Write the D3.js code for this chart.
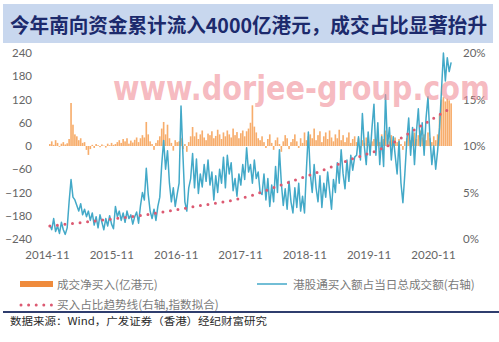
<!DOCTYPE html>
<html><head><meta charset="utf-8">
<script src="https://cdn.jsdelivr.net/npm/d3@7"></script>
<style>
html,body{margin:0;padding:0;background:#fff;}
svg{display:block;}
</style></head><body>
<svg id="chart" width="499" height="342"></svg>
<script>
// ---- chart data ----
const titleText = "今年南向资金累计流入4000亿港元，成交占比显著抬升";
const leftTicks = [-240, -180, -120, -60, 0, 60, 120, 180, 240];
const rightTicks = [0, 0.05, 0.10, 0.15, 0.20];
const xTickDates = ["2014-11-01", "2015-11-01", "2016-11-01", "2017-11-01", "2018-11-01", "2019-11-01", "2020-11-01"];
const seriesStart = "2014-11-17";
const seriesEnd = "2021-02-12";

// net southbound purchases (亿港元), evenly sampled over the period
const netBuy = [
  5, 12, 3, 15, 8, -2, 6, 10, 4, 7,
  18, 111, 55, 30,
  25, 15, 20, 8, 10, -10, -23, -8,
  3, -5, 5, 2, -3, 4, 1, -4, 6, 2, 8, 3, 5,
  10, 15, 8, 18, 12, 20, 6, 14, 9, 16, 22, 10,
  20, 28, 22, 62, 30, 12,
  5, -10, 8, 15, 25,
  45, 62, 30, 55,
  20, 8, -12, 15, 10,
  12, 20, -8, 5, -15,
  10, 25,
  49, 25, 35, 18, 30, 40, 22, 15, 32, 28, 38, 20, 26, 42, 30, 18, 35, 25, 40, 30, 22, 45, 28, 36, 20, 33, 40, 25, 38, 45,
  60, 105, 50, 35, 20, 15,
  25, 10, -5, 18, 30, 8, -10, 15, 22, 5, -15, 12, 28, 20, -8, 10, 18, 30, 12, -5, 20, 8, 35, 15, 25,
  30, 20, 45, 15, 28, 38, 10, 25, 35, 18, 40, 22, 12, 30, 20, 42, 15, 28, 10, 22, 35, 8, 18, 25,
  10, 20, -5, 15, 8, 22, 5, -8, 12, 18,
  15, 25, 10, 30, 18, 40, 20, 12, 28, 15, 22, 10, 18,
  5, -10, 12,
  20, 30, 15, 25, 35, 18, 28, 40, 22, 30, 15, 35,
  20, 10, 25, 15, 30, 80,
  120, 126, 115, 122, 118, 110
];

// southbound buying as % of the day's total turnover
const shareOfTurnover = [
  1.5, 1.0, 2.2, 0.8, 1.4, 0.6, 1.8, 1.0, 0.5, 1.2,
  4.0, 6.4, 4.5,
  4.2, 3.6, 3.0, 3.8, 2.6, 3.2, 2.4, 3.0,
  2.0, 2.8, 1.5, 2.4, 1.2, 2.6, 1.8, 1.0, 2.2, 1.4, 2.5, 1.6, 1.1,
  3.5, 2.4, 3.0, 2.0, 2.8, 1.8, 3.0, 2.2, 2.6, 1.6, 2.4, 2.9, 1.7,
  3.6, 5.0, 4.2, 7.6, 4.8, 3.0,
  2.2, 3.2, 2.0, 3.5, 4.5,
  8.0, 10.6, 7.5, 9.5,
  6.0, 4.0, 5.5, 3.5, 4.8,
  6.0, 14.3, 9.0, 4.0,
  3.0, 5.5,
  6.5, 9.2, 5.5, 8.6, 4.9, 7.0, 5.6, 8.0, 6.2, 8.5, 5.8, 7.2, 4.2, 6.8, 5.0, 7.5, 6.0, 8.8, 5.5, 9.0, 7.0, 8.2, 5.2, 6.5, 4.6, 7.0, 5.8, 8.0, 6.4, 9.8, 7.2,
  8.0, 6.0, 8.5, 6.5, 7.2, 5.0,
  4.8, 7.0, 4.2, 6.5, 3.5, 5.8, 4.0, 7.8, 5.0, 9.6, 6.0, 3.6, 5.4, 3.2, 6.2, 4.0, 2.8, 5.5, 3.4, 6.0, 3.0, 4.6, 2.8, 7.5, 11.5,
  7.0, 5.0, 8.0, 5.5, 4.0, 6.8, 3.4, 6.0, 4.5, 7.2, 5.2, 3.2, 6.4, 5.0, 8.2, 6.0, 9.6, 7.0, 5.4, 8.5, 6.2, 9.0, 7.4, 8.8,
  9.0, 11.0, 8.5, 13.5, 10.0, 8.0, 11.5, 9.0, 12.0, 14.5,
  9.0, 12.5, 8.0, 11.0, 7.8, 15.5, 10.0, 12.0, 8.5, 11.0, 9.0, 7.0, 10.5,
  6.0, 3.9, 7.0,
  10.5, 13.0, 9.0, 12.0, 8.0, 11.5, 14.0, 10.0, 12.5, 9.0, 13.0, 15.3,
  11.0, 8.0, 10.0, 7.5, 9.5, 12.0,
  16.0, 20.0, 17.0, 19.5, 18.0, 19.0
];

// exponential trend of the share (%)
const trendDates = ["2014-11-17", "2015-07-15", "2016-06-15", "2017-01-20", "2018-01-10", "2018-06-20", "2019-01-05", "2019-07-15", "2020-02-05", "2020-08-10", "2021-01-25"];
const trendValues = [1.4, 1.9, 2.7, 3.4, 4.7, 5.8, 7.1, 8.5, 9.9, 12.0, 13.9];

const legendLabels = ["成交净买入(亿港元)", "港股通买入额占当日总成交额(右轴)", "买入占比趋势线(右轴,指数拟合)"];
const sourceText = "数据来源：Wind，广发证券（香港）经纪财富研究";
const watermarkText = "www.dorjee-group.com";

// ---- drawing ----
const parse = d3.timeParse("%Y-%m-%d");
const svg = d3.select("#chart");
const COLORS = { orange: "#f7ad6c", orangeLegend: "#ef8b3c", blue: "#43a9c8", trend: "#dc5a72", tick: "#666666", legend: "#7a7a7a" };

const t0 = parse(seriesStart), t1 = parse(seriesEnd);
const n = shareOfTurnover.length;
const dates = d3.range(n).map(i => new Date(+t0 + (t1 - t0) * i / (n - 1)));

const x = d3.scaleTime().domain([parse(xTickDates[0]), parse(xTickDates[xTickDates.length - 1])]).range([47, 433]);
const yL = d3.scaleLinear().domain([-240, 240]).range([239, 53]);
const yR = d3.scaleLinear().domain([0, 0.20]).range([239, 53]);

// title band
svg.append("rect").attr("x", 3).attr("y", 4).attr("width", 490).attr("height", 39).attr("fill", "#c8d7ee");
svg.append("text").attr("x", 10).attr("y", 33)
  .attr("textLength", 477).attr("lengthAdjust", "spacingAndGlyphs")
  .style("font-family", "'Noto Sans CJK SC', sans-serif").style("font-weight", 700).style("font-size", "20px")
  .attr("fill", "#1c2a6c").text(titleText);

// axes
function styleAxis(g) {
  g.select(".domain").remove();
  g.selectAll(".tick line").remove();
  g.selectAll("text").attr("fill", COLORS.tick).style("font-family", "Lato, 'Open Sans', sans-serif").style("font-size", "11.5px");
}
svg.append("g").attr("transform", "translate(35,0)")
  .call(d3.axisLeft(yL).tickValues(leftTicks).tickSize(0).tickPadding(3).tickFormat(d3.format("d")))
  .call(styleAxis);
svg.append("g").attr("transform", "translate(460,0)")
  .call(d3.axisRight(yR).tickValues(rightTicks).tickSize(0).tickPadding(3).tickFormat(d3.format(".0%")))
  .call(styleAxis);
svg.append("g").attr("transform", "translate(0,245)")
  .call(d3.axisBottom(x).tickValues(xTickDates.map(parse)).tickSize(0).tickPadding(6).tickFormat(d3.timeFormat("%Y-%m")))
  .call(styleAxis);

// net purchase columns
const step = Math.abs(x(dates[1]) - x(dates[0]));
const barW = step * 0.85;
svg.append("g").selectAll("rect").data(netBuy).join("rect")
  .attr("x", (d, i) => x(dates[i]) - barW / 2)
  .attr("y", d => yL(Math.max(0, d)))
  .attr("width", barW)
  .attr("height", d => Math.abs(yL(d) - yL(0)))
  .attr("fill", COLORS.orange);

// share line
const shareLine = d3.line().x((d, i) => x(dates[i])).y(d => yR(d / 100));
svg.append("path").datum(shareOfTurnover).attr("d", shareLine)
  .attr("fill", "none").attr("stroke", COLORS.blue).attr("stroke-width", 1.5).attr("stroke-linejoin", "round");

// trend dots
const trendLine = d3.line().curve(d3.curveMonotoneX).x((d, i) => x(parse(trendDates[i]))).y(d => yR(d / 100));
svg.append("path").datum(trendValues).attr("d", trendLine)
  .attr("fill", "none").attr("stroke", COLORS.trend).attr("stroke-width", 3)
  .attr("stroke-linecap", "round").attr("stroke-dasharray", "0,7.6");

// watermark
svg.append("text").attr("x", 113).attr("y", 100)
  .attr("textLength", 377).attr("lengthAdjust", "spacingAndGlyphs")
  .style("font-family", "'DejaVu Sans', sans-serif").style("font-weight", 700).style("font-size", "33px")
  .attr("fill", "#f08e98").attr("fill-opacity", 0.62).text(watermarkText);

// legend
const lg = svg.append("g").style("font-family", "'Noto Sans CJK SC', sans-serif").style("font-size", "11.6px").attr("fill", COLORS.legend);
lg.append("rect").attr("x", 20).attr("y", 281).attr("width", 33).attr("height", 6).attr("fill", COLORS.orangeLegend);
lg.append("text").attr("x", 57).attr("y", 288.5).text(legendLabels[0]);
lg.append("line").attr("x1", 257).attr("x2", 287).attr("y1", 284).attr("y2", 284).attr("stroke", COLORS.blue).attr("stroke-width", 1.5);
lg.append("text").attr("x", 293).attr("y", 288.5).text(legendLabels[1]);
lg.append("line").attr("x1", 21).attr("x2", 53).attr("y1", 305).attr("y2", 305)
  .attr("stroke", COLORS.trend).attr("stroke-width", 3).attr("stroke-linecap", "round").attr("stroke-dasharray", "0,7.6");
lg.append("text").attr("x", 57).attr("y", 309).text(legendLabels[2]);

// footer rule and source
svg.append("line").attr("x1", 3).attr("x2", 499).attr("y1", 312).attr("y2", 312).attr("stroke", "#2f3d6e").attr("stroke-width", 2);
svg.append("text").attr("x", 10).attr("y", 325)
  .attr("textLength", 257).attr("lengthAdjust", "spacingAndGlyphs")
  .style("font-family", "'Noto Sans CJK SC', sans-serif").style("font-size", "10.5px")
  .attr("fill", "#2a2a2a").text(sourceText);
</script>
</body></html>
